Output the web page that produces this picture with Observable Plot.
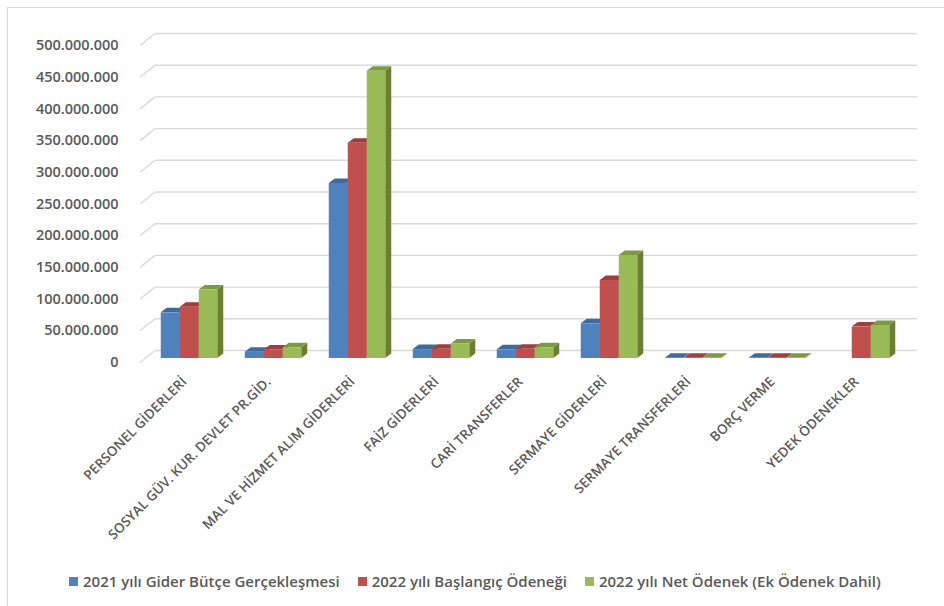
<!DOCTYPE html>
<html><head><meta charset="utf-8">
<script src="https://cdn.jsdelivr.net/npm/d3@7"></script>
<script src="https://cdn.jsdelivr.net/npm/@observablehq/plot@0.6"></script>
<style>
body{margin:0;background:#fff;font-family:"Open Sans",sans-serif;}
#wrap{position:relative;width:944px;height:606px;overflow:hidden;background:#fff;}
#frame{position:absolute;left:7px;top:7px;width:960px;height:640px;border:1px solid #d9d9d9;box-sizing:border-box;}
#chart{position:absolute;left:0;top:0;}
#legend{position:absolute;left:69px;top:571px;display:flex;gap:18px;font-size:15px;font-weight:600;color:#595959;white-space:nowrap;}
#legend .it{display:flex;align-items:center;}
#legend .sw{width:9px;height:9px;margin-right:5px;}
</style></head>
<body>
<div id="wrap"><div id="frame"></div><div id="chart"></div><div id="legend"></div></div>
<script>
const categories = ["PERSONEL GİDERLERİ","SOSYAL GÜV. KUR. DEVLET PR.GİD.","MAL VE HİZMET ALIM GİDERLERİ","FAİZ GİDERLERİ","CARİ TRANSFERLER","SERMAYE GİDERLERİ","SERMAYE TRANSFERLERİ","BORÇ VERME","YEDEK ÖDENEKLER"];
const seriesNames = ["2021 yılı Gider Bütçe Gerçekleşmesi","2022 yılı Başlangıç Ödeneği","2022 yılı Net Ödenek (Ek Ödenek Dahil)"];
const v2021 = [72000000, 10000000, 276000000, 14000000, 13700000, 54700000, 200000, 200000, null];
const v2022Baslangic = [81000000, 13500000, 339500000, 14700000, 14700000, 123000000, 200000, 200000, 49500000];
const v2022Net = [108000000, 17000000, 453000000, 23000000, 17000000, 162500000, 200000, 200000, 52000000];
const yTicks = [0, 50000000, 100000000, 150000000, 200000000, 250000000, 300000000, 350000000, 400000000, 450000000, 500000000];
const colors = ["#4f81bd","#c0504d","#9bbb59"];
const capColors = ["#3f6a9c","#9e3f3c","#7b9a42"];
const sideColors = ["#385d8a","#8c3836","#6a7f35"];

const seriesValues = [v2021, v2022Baslangic, v2022Net];
const rows = [];
seriesValues.forEach((vals, s) => vals.forEach((v, i) => { if (v != null) rows.push({cat: categories[i], s, v}); }));

const fmt = d3.formatLocale({decimal: ",", thousands: ".", grouping: [3], currency: ["", ""]}).format(",d");

const bandW = (944 - 145 - 38.5) / categories.length;
const barW = 19;
const lead = (bandW - 3 * barW) / 2;

const barMarks = [0, 1, 2].map(s => Plot.barY(rows.filter(d => d.s === s), {
  x: "cat", y: "v", fill: colors[s],
  insetLeft: lead + s * barW, insetRight: bandW - barW - lead - s * barW
}));

const chart = Plot.plot({
  width: 944, height: 560,
  marginLeft: 145, marginRight: 38.5, marginTop: 41, marginBottom: 202,
  style: {fontFamily: "Open Sans, sans-serif", background: "transparent", overflow: "visible"},
  x: {domain: categories, padding: 0},
  y: {domain: [0, 500000000]},
  marks: [
    Plot.ruleY(yTicks, {stroke: "#d9d9d9", strokeWidth: 1.4, dy: -8, insetLeft: 10, insetRight: -11.5}),
    Plot.axisY({ticks: yTicks, tickSize: 0, tickPadding: 27, dy: 4, tickFormat: fmt, fontSize: 14.5, fontWeight: 600, fill: "#595959", label: null}),
    Plot.axisX({tickRotate: -45, tickSize: 0, tickPadding: 21, dx: -5, fontSize: 13.5, fontWeight: 600, fill: "#595959", label: null}),
    ...barMarks
  ]
});
document.getElementById("chart").appendChild(chart);

const NS = "http://www.w3.org/2000/svg";
// diagonal wall edges on gridlines
chart.querySelectorAll('g[aria-label="rule"] line').forEach(l => {
  const x1 = +l.getAttribute("x1"), y1 = +l.getAttribute("y1");
  const d = document.createElementNS(NS, "line");
  d.setAttribute("x1", x1 - 15); d.setAttribute("y1", y1 + 12);
  d.setAttribute("x2", x1); d.setAttribute("y2", y1);
  l.parentNode.appendChild(d);
});
// 3D faces on bars
chart.querySelectorAll('g[aria-label="bar"]').forEach((g, s) => {
  g.querySelectorAll("rect").forEach(r => {
    const x = +r.getAttribute("x"), y = +r.getAttribute("y"), w = +r.getAttribute("width"), h = +(r.getAttribute("height") || 0);
    const dx = 6, dy = -4.5;
    const side = document.createElementNS(NS, "polygon");
    side.setAttribute("points", [[x+w,y],[x+w+dx,y+dy],[x+w+dx,y+h+dy],[x+w,y+h]].map(p=>p.join(",")).join(" "));
    side.setAttribute("fill", sideColors[s]);
    const cap = document.createElementNS(NS, "polygon");
    cap.setAttribute("points", [[x,y],[x+dx,y+dy],[x+w+dx,y+dy],[x+w,y]].map(p=>p.join(",")).join(" "));
    cap.setAttribute("fill", capColors[s]);
    r.parentNode.insertBefore(side, r);
    r.parentNode.insertBefore(cap, r);
  });
});

const legend = document.getElementById("legend");
seriesNames.forEach((n, i) => {
  const it = document.createElement("div"); it.className = "it";
  const sw = document.createElement("div"); sw.className = "sw"; sw.style.background = colors[i];
  const t = document.createElement("span"); t.textContent = n;
  it.appendChild(sw); it.appendChild(t); legend.appendChild(it);
});
</script>
</body></html>
